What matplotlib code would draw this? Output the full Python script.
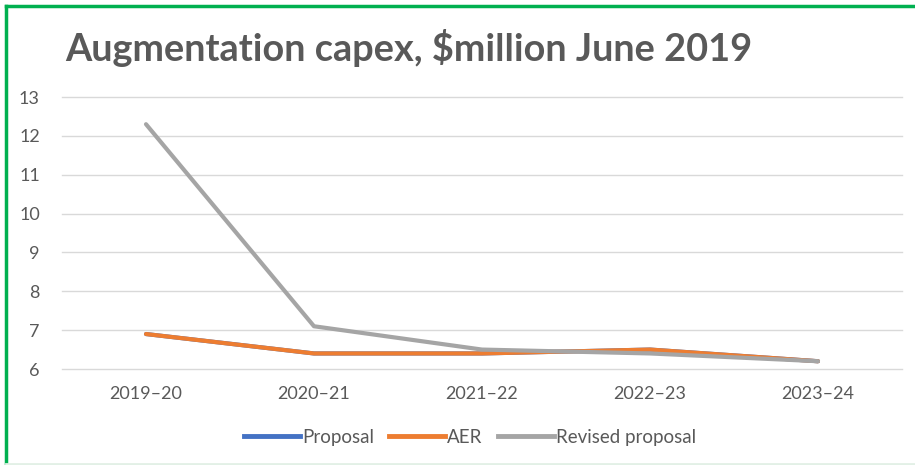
import matplotlib
matplotlib.use("Agg")
import matplotlib.pyplot as plt
from matplotlib.lines import Line2D

years = ["2019\u201320", "2020\u201321", "2021\u201322", "2022\u201323", "2023\u201324"]
proposal = [6.9, 6.4, 6.4, 6.5, 6.2]
aer = [6.9, 6.4, 6.4, 6.5, 6.2]
revised = [12.3, 7.1, 6.5, 6.4, 6.2]

plt.rcParams['font.family'] = ['Lato', 'DejaVu Sans']

fig = plt.figure(figsize=(9.15, 4.65), dpi=100)
ax = fig.add_axes([62/915, 1 - 369/465, 840/915, 272/465])

x = range(len(years))
ax.plot(x, proposal, color='#4472C4', lw=3, solid_capstyle='round', label='Proposal')
ax.plot(x, aer, color='#ED7D31', lw=3, solid_capstyle='round', label='AER')
ax.plot(x, revised, color='#A5A5A5', lw=3, solid_capstyle='round', label='Revised proposal')

ax.set_xlim(-0.5, len(years) - 0.5)
ax.set_ylim(6, 13)
ax.set_yticks(range(6, 14))
ax.set_xticks(list(x))
ax.set_xticklabels(years)
ax.grid(axis='y', color='#D9D9D9', lw=1)
for g in ax.get_ygridlines():
    g.set_clip_on(False)
ax.set_axisbelow(True)
for s in ax.spines.values():
    s.set_visible(False)
ax.tick_params(length=0, labelsize=13, colors='#595959', pad=12)
ax.tick_params(axis='y', pad=16)

fig.text(65/915, 1 - 48/465, "Augmentation capex, $million June 2019", fontsize=27.3,
         fontweight='bold', color='#595959', va='center', ha='left')

handles = [Line2D([], [], color=c, lw=3.5) for c in ['#4472C4', '#ED7D31', '#A5A5A5']]
fig.legend(handles, ['Proposal', 'AER', 'Revised proposal'], loc='center',
           bbox_to_anchor=(470/915, 1 - 437/465), ncol=3, frameon=False,
           fontsize=13.5, handlelength=3.0, handletextpad=0.1, columnspacing=0.8,
           labelcolor='#595959')

# green frame around the chart
fig.add_artist(Line2D([5.5/915, 5.5/915], [0, 1 - 6.5/465], color='#00B050', lw=2.5,
                      transform=fig.transFigure))
fig.add_artist(Line2D([5.5/915, 1], [1 - 6.5/465, 1 - 6.5/465], color='#00B050', lw=2.5,
                      transform=fig.transFigure))
fig.add_artist(Line2D([5.5/915, 1], [1/465, 1/465], color='#E2F0E6', lw=2,
                      transform=fig.transFigure))

fig.savefig("out.png", dpi=100)
